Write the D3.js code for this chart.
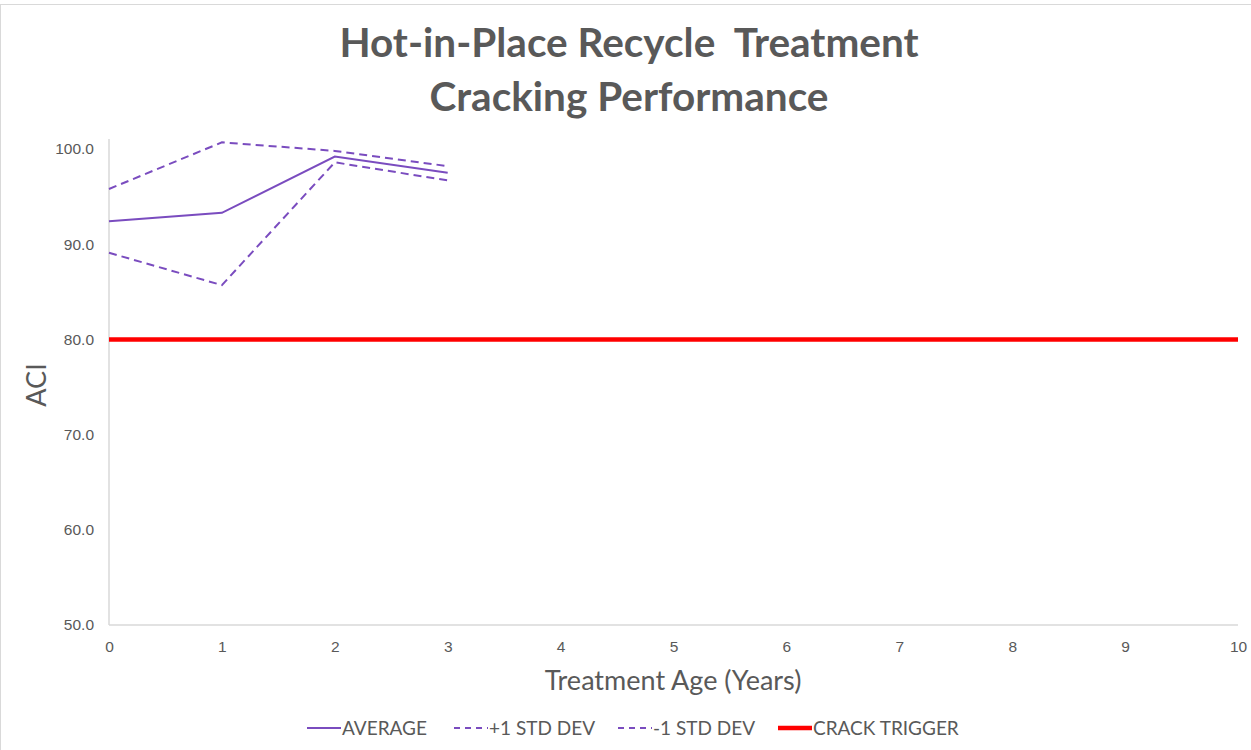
<!DOCTYPE html>
<html><head><meta charset="utf-8">
<script src="https://cdn.jsdelivr.net/npm/d3@7"></script>
<style>body{margin:0;background:#fff;}svg{display:block;font-family:Lato,"Open Sans",sans-serif;}</style>
</head><body>
<svg id="c" width="1251" height="750"></svg>
<script>
const years = [0, 1, 2, 3];
const average = [92.4, 93.3, 99.2, 97.5];
const plusStd = [95.8, 100.7, 99.8, 98.2];
const minusStd = [89.1, 85.7, 98.6, 96.7];
const crackTrigger = [80, 80];
const crackYears = [0, 10];
const xTicks = [0,1,2,3,4,5,6,7,8,9,10];
const yTicks = [50,60,70,80,90,100];
const seriesNames = ['AVERAGE', '+1 STD DEV', '-1 STD DEV', 'CRACK TRIGGER'];

const svg = d3.select('#c');
const purple = '#7a4cbf', grey = '#595959', red = '#ff0000';
svg.append('rect').attr('x',0.5).attr('y',4.5).attr('width',1260).attr('height',760).attr('fill','#fff').attr('stroke','#d9d9d9');

const x = d3.scaleLinear().domain([0,10]).range([109,1238]);
const y = d3.scaleLinear().domain([50,100]).range([625,149]);

// axes lines
svg.append('line').attr('x1',109).attr('x2',109).attr('y1',139).attr('y2',625).attr('stroke','#d9d9d9').attr('stroke-width',1.5);
svg.append('line').attr('x1',109).attr('x2',1238).attr('y1',625).attr('y2',625).attr('stroke','#d9d9d9').attr('stroke-width',1.5);

const yAx = svg.append('g').attr('transform','translate(109,0)').call(d3.axisLeft(y).tickValues(yTicks).tickFormat(d3.format('.1f')).tickSize(0).tickPadding(15));
yAx.select('.domain').remove();
yAx.selectAll('text').attr('fill',grey).attr('font-size',15.5);
const xAx = svg.append('g').attr('transform','translate(0,625)').call(d3.axisBottom(x).tickValues(xTicks).tickFormat(d3.format('d')).tickSize(0).tickPadding(16));
xAx.select('.domain').remove();
xAx.selectAll('text').attr('fill',grey).attr('font-size',15.5);

const line = d3.line().x((d,i)=>x(years[i])).y(d=>y(d));
svg.append('path').datum(crackTrigger).attr('d', d3.line().x((d,i)=>x(crackYears[i])).y(d=>y(d))).attr('stroke',red).attr('stroke-width',4.5).attr('fill','none');
svg.append('path').datum(plusStd).attr('d',line).attr('stroke',purple).attr('stroke-width',2).attr('stroke-dasharray','8,5').attr('fill','none');
svg.append('path').datum(minusStd).attr('d',line).attr('stroke',purple).attr('stroke-width',2).attr('stroke-dasharray','8,5').attr('fill','none');
svg.append('path').datum(average).attr('d',line).attr('stroke',purple).attr('stroke-width',2).attr('fill','none');

// titles
svg.append('text').attr('x',629).attr('y',57).attr('text-anchor','middle').attr('font-size',40.5).attr('font-weight','bold').attr('fill',grey).style('white-space','pre').text('Hot-in-Place Recycle  Treatment');
svg.append('text').attr('x',629).attr('y',111).attr('text-anchor','middle').attr('font-size',40.5).attr('font-weight','bold').attr('fill',grey).text('Cracking Performance');
svg.append('text').attr('x',673).attr('y',690).attr('text-anchor','middle').attr('font-size',27).attr('fill',grey).text('Treatment Age (Years)');
svg.append('text').attr('transform','translate(46,385) rotate(-90)').attr('text-anchor','middle').attr('font-size',27).attr('fill',grey).text('ACI');

// legend
const legendX = [307, 454, 618, 778];
const legendStyle = [
  {color:purple, dash:null, w:2},
  {color:purple, dash:'6,5', w:2},
  {color:purple, dash:'6,5', w:2},
  {color:red, dash:null, w:4.5}
];
seriesNames.forEach((name,i)=>{
  const s = legendStyle[i];
  svg.append('line').attr('x1',legendX[i]).attr('x2',legendX[i]+34).attr('y1',728).attr('y2',728).attr('stroke',s.color).attr('stroke-width',s.w).attr('stroke-dasharray',s.dash);
  svg.append('text').attr('x',legendX[i]+35).attr('y',735).attr('font-size',19).attr('fill',grey).text(name);
});
</script>
</body></html>
